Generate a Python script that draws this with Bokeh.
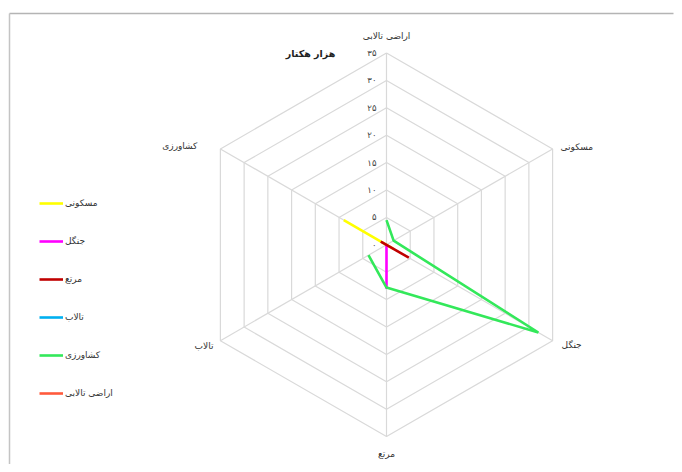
import math
from bokeh.plotting import figure
from bokeh.models import Range1d, Legend, LegendItem
from bokeh.core.properties import value
from bokeh.embed import file_html
from bokeh.resources import INLINE

# ---- data ----
axes_labels = ["اراضی تالابی", "مسکونی", "جنگل", "مرتع", "تالاب", "کشاورزی"]
tick_values = [0, 5, 10, 15, 20, 25, 30, 35]
tick_labels = ["۰", "۵", "۱۰", "۱۵", "۲۰", "۲۵", "۳۰", "۳۵"]
series_names = ["مسکونی", "جنگل", "مرتع", "تالاب", "کشاورزی", "اراضی تالابی"]
maskooni = [0, 0, 1.5, 0, 0, 9]
jangal = [0, 0, 0, 8, 0, 0]
marta = [0, 0, 4.7, 0, 0, 1.2]
talab = [0, 0, 0, 0, 0, 0]
keshavarzi = [4.5, 1.5, 32, 7.8, 3.8, float("nan")]
araazi_talabi = [0, 0, 0, 0, 0, 0]
series_values = [maskooni, jangal, marta, talab, keshavarzi, araazi_talabi]
series_colors = ["#FFFF00", "#FF00FF", "#C00000", "#00B0F0", "#33E85A", "#FF5A3C"]
title_text = "هزار هکتار"

# ---- layout ----
W, H = 674, 464
K = 5.48             # px per unit
CX, CY = 386, 244.3  # picture px of center
FONT = "DejaVu Sans"

def px_x(px):
    return (px - CX) / K

def px_y(py):
    return (CY - py) / K

p = figure(width=W, height=H, output_backend="svg", toolbar_location=None,
           x_range=Range1d(px_x(0), px_x(W)), y_range=Range1d(px_y(H), px_y(0)),
           min_border=0, x_axis_type=None, y_axis_type=None)
p.grid.visible = False
p.outline_line_color = None
p.background_fill_color = "white"

n = len(axes_labels)
angles = [math.radians(90 - 360.0 / n * i) for i in range(n)]

def pt(v, i):
    return v * math.cos(angles[i]), v * math.sin(angles[i])

# frame
p.line([px_x(9), px_x(673)], [px_y(13), px_y(13)], line_color="#b4b4b4", line_width=1.5)
p.line([px_x(9), px_x(9)], [px_y(13), px_y(480)], line_color="#c4c4c4", line_width=1.5)

# grid rings
for r in tick_values[1:]:
    xs = [pt(r, i)[0] for i in range(n)] + [pt(r, 0)[0]]
    ys = [pt(r, i)[1] for i in range(n)] + [pt(r, 0)[1]]
    p.line(xs, ys, line_color="#d9d9d9", line_width=1.2)
# spokes
rmax = tick_values[-1]
for i in range(n):
    x1, y1 = pt(rmax, i)
    p.line([0, x1], [0, y1], line_color="#d9d9d9", line_width=1.2)

# tick labels
p.text(x=[0] * len(tick_values), y=tick_values, text=tick_labels,
       x_offset=-10, text_align="right", text_baseline="middle",
       text_font=value(FONT), text_font_size="8.5px", text_color="#404040")

# category labels
offs = [(0, -17, "center"), (8, -2, "left"), (9, 4, "left"),
        (0, 17, "center"), (-7, 5, "right"), (-23, -3, "right")]
for i, lab in enumerate(axes_labels):
    x, y = pt(rmax, i)
    dx, dy, al = offs[i]
    p.text(x=[x], y=[y], text=[lab], x_offset=dx, y_offset=dy, text_align=al,
           text_baseline="middle", text_font=value(FONT), text_font_size="9px",
           text_color="#333333")

# title
p.text(x=[px_x(310)], y=[px_y(53)], text=[title_text], text_align="center",
       text_baseline="middle", text_font=value(FONT), text_font_size="9.5px",
       text_font_style="bold", text_color="#222222")

# series
items = []
for name, vals, col in zip(series_names, series_values, series_colors):
    vv = list(vals) + [vals[0]]
    xs, ys = [], []
    for j, v in enumerate(vv):
        i = j % n
        if v != v:
            xs.append(float("nan")); ys.append(float("nan"))
        else:
            x, y = pt(v, i)
            xs.append(x); ys.append(y)
    r = p.line(xs, ys, line_color=col, line_width=2.6)
    items.append(LegendItem(label=name, renderers=[r]))

legend = Legend(items=items, location=(39, H - 403), orientation="vertical",
                border_line_color=None, background_fill_alpha=0, padding=0, margin=0,
                spacing=18, glyph_width=24, glyph_height=20, label_height=20,
                label_standoff=2, label_text_font=FONT, label_text_font_size="9px",
                label_text_color="#333333")
p.add_layout(legend)

open("out.html", "w").write(file_html(p, INLINE))
